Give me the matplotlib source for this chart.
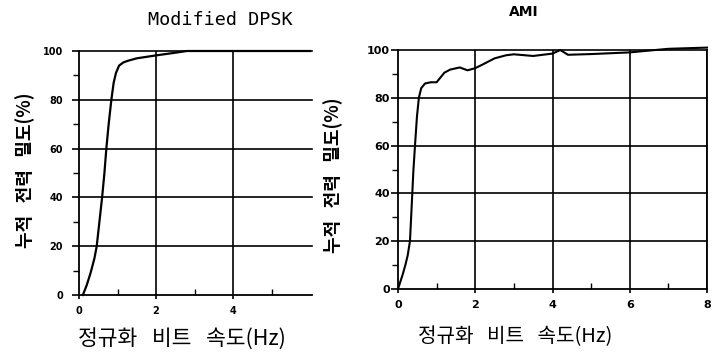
import matplotlib
matplotlib.use("Agg")
import matplotlib.pyplot as plt

# Modified DPSK - cumulative power density vs normalized bit rate
dpsk_x = [0.1, 0.2, 0.3, 0.4, 0.46, 0.53, 0.6, 0.66, 0.71, 0.77, 0.84, 0.9,
          0.96, 1.04, 1.15, 1.27, 1.5, 2.0, 2.5, 2.8, 3.5, 6.0]
dpsk_y = [0, 4, 9, 15, 20, 30, 40, 50, 60, 70, 80, 87,
          91, 94, 95.3, 96, 97, 98.2, 99.3, 100, 100, 100]

# AMI
ami_x = [0.0, 0.06, 0.12, 0.19, 0.25, 0.31, 0.34, 0.37, 0.4, 0.44, 0.49, 0.54,
         0.6, 0.7, 0.85, 1.0, 1.1, 1.2, 1.35, 1.6, 1.8, 2.0, 2.2, 2.5, 2.8,
         3.0, 3.5, 4.0, 4.2, 4.4, 5.0, 6.0, 7.0, 8.0]
ami_y = [0, 3, 6, 10, 14, 20, 30, 40, 50, 60, 72, 80,
         84, 86, 86.5, 86.5, 88.5, 90.5, 91.8, 92.7, 91.5, 92.4, 94, 96.5, 97.8,
         98.2, 97.5, 98.5, 100, 98, 98.3, 99, 100.5, 101]

y_major = [0, 20, 40, 60, 80, 100]
y_minor = [10, 30, 50, 70, 90]

plt.rcParams['font.family'] = ['DejaVu Sans']
kr = ['Noto Sans CJK KR', 'DejaVu Sans']
ylabel = '누적   전력   밀도(%)'
xlabel = '정규화   비트   속도(Hz)'

fig = plt.figure(figsize=(7.2, 3.52), dpi=100)

ax1 = fig.add_axes([79 / 720, 1 - 295 / 352, 233 / 720, 244 / 352])
ax2 = fig.add_axes([398 / 720, 1 - 289 / 352, 309 / 720, 239 / 352])


def style(ax, xmax, xmajor, xminor, right_box, fs, ypad):
    ax.set_xlim(0, xmax)
    ax.set_ylim(0, 100)
    for s in ['top', 'right']:
        ax.spines[s].set_visible(False)
    if right_box:
        ax.spines['right'].set_visible(True)
    for s in ax.spines.values():
        s.set_linewidth(1.3)
    ax.set_yticks(y_major)
    ax.set_yticks(y_minor, minor=True)
    ax.set_xticks(xmajor)
    ax.set_xticks(xminor, minor=True)
    ax.tick_params(axis='y', which='major', direction='out', length=5, width=1.2,
                   labelsize=fs, pad=ypad)
    ax.tick_params(axis='y', which='minor', direction='out', length=4.5, width=1.0)
    ax.tick_params(axis='x', which='major', direction='out', length=3, width=1.2,
                   labelsize=fs, pad=5)
    ax.tick_params(axis='x', which='minor', direction='in', length=4, width=1.0)
    for lab in ax.get_xticklabels() + ax.get_yticklabels():
        lab.set_fontweight('bold')
    for v in y_major[1:]:
        ax.axhline(v, color='black', lw=1.2, clip_on=False)
    for v in xmajor[1:]:
        ax.axvline(v, color='black', lw=1.2)


style(ax1, 6.05, [0, 2, 4], [1, 3, 5], False, 7, 6.5)
ax1.set_xticklabels(['0', '2', '4'])
ax1.plot(dpsk_x, dpsk_y, color='black', lw=1.6, clip_on=False)

style(ax2, 8, [0, 2, 4, 6, 8], [1, 3, 5, 7], True, 8, 1)
ax2.plot(ami_x, ami_y, color='black', lw=1.5, clip_on=False)

fig.text(220 / 720, 1 - 20 / 352, 'Modified DPSK', family='DejaVu Sans Mono',
         fontsize=13.3, ha='center', va='center')
fig.text(524 / 720, 1 - 12 / 352, 'AMI', fontweight='bold', fontsize=10,
         ha='center', va='center')

fig.text(25 / 720, 1 - 170 / 352, ylabel, family=kr, fontsize=13,
         fontweight='bold', rotation=90, ha='center', va='center')
fig.text(333 / 720, 1 - 175 / 352, ylabel, family=kr, fontsize=13,
         fontweight='bold', rotation=90, ha='center', va='center')
fig.text(182 / 720, 1 - 340 / 352, xlabel, family=kr, fontsize=15.5,
         ha='center', va='center')
fig.text(515 / 720, 1 - 337 / 352, xlabel, family=kr, fontsize=14.5,
         ha='center', va='center')

fig.savefig('out.png', dpi=100)
